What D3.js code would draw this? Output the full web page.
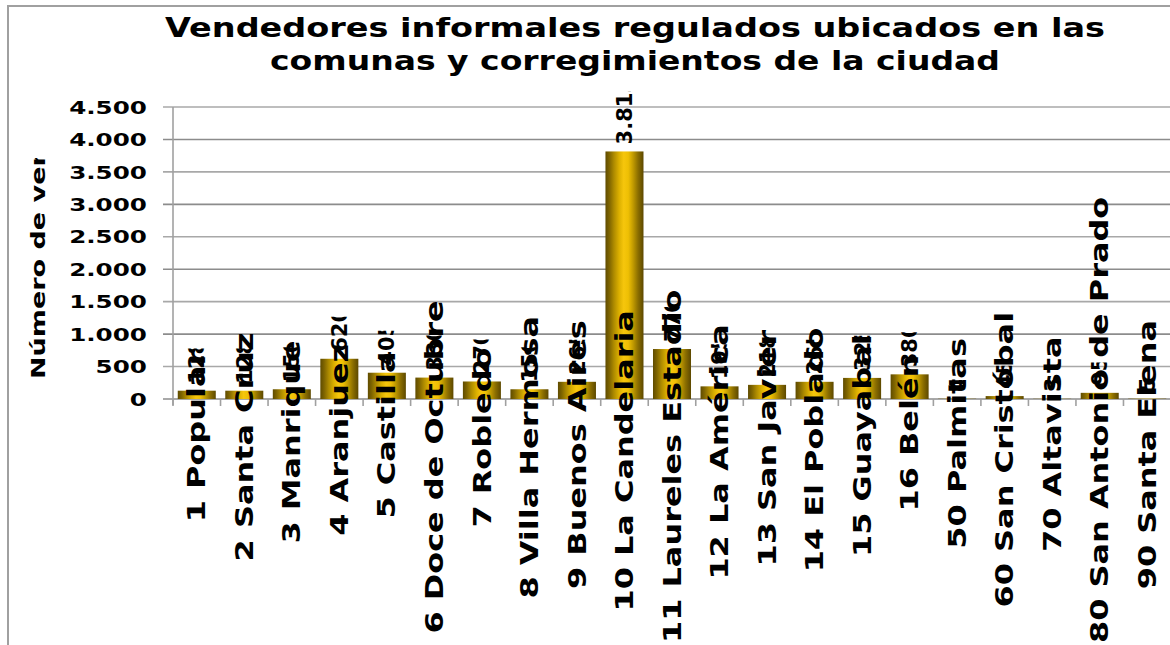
<!DOCTYPE html>
<html><head><meta charset="utf-8">
<script src="https://cdn.jsdelivr.net/npm/d3@7"></script>
<style>
body{margin:0;background:#fff;overflow:hidden}
text{font-family:"DejaVu Sans",Verdana,sans-serif;font-weight:bold;fill:#000}
</style>
</head><body>
<svg id="c" width="1170" height="645"></svg>
<script>
const categories=["1 Popular","2 Santa Cruz","3 Manrique","4 Aranjuez","5 Castilla","6 Doce de Octubre","7 Robledo","8 Villa Hermosa","9 Buenos Aires","10 La Candelaria","11 Laureles Estadio","12 La América","13 San Javier","14 El Poblado","15 Guayabal","16 Belén","50 Palmitas","60 San Cristóbal","70 Altavista","80 San Antonio de Prado","90 Santa Elena"];
const values=[128,128,150,620,405,330,270,150,265,3815,770,195,218,265,325,380,4,45,3,95,5];
const yTicks=[0,500,1000,1500,2000,2500,3000,3500,4000,4500];
const titleLines=["Vendedores informales regulados ubicados en las","comunas y corregimientos de la ciudad"];
const yTitle="Número de vendedores";

(function(){
const svg=d3.select("#c");
const W=1170;
const pL=173,pR=1171,pT=107,pB=399;
const locale=d3.formatLocale({decimal:",",thousands:".",grouping:[3],currency:["$",""]});
const fmt=locale.format(",");

const x=d3.scaleBand().domain(categories).range([pL,pR]).paddingInner(0.2).paddingOuter(0.1);
const y=d3.scaleLinear().domain([0,4500]).range([pB,pT]);

svg.append("rect").attr("x",8).attr("y",6).attr("width",1300).attr("height",800)
  .attr("fill","#fff").attr("stroke","#a0a0a0").attr("stroke-width",2);

const defs=svg.append("defs");
const g=defs.append("linearGradient").attr("id","gold").attr("x1","0%").attr("x2","100%").attr("y1","0%").attr("y2","0%");
[[0,"#5f4b00"],[0.1,"#7e6400"],[0.22,"#ad8a00"],[0.36,"#dcb000"],[0.48,"#f6c60c"],[0.6,"#eebf04"],[0.72,"#c39c00"],[0.86,"#8a6d00"],[1,"#5c4800"]]
  .forEach(s=>g.append("stop").attr("offset",s[0]).attr("stop-color",s[1]));

function stretch(el,k){const l=el.getComputedTextLength();el.setAttribute("textLength",l*k);el.setAttribute("lengthAdjust","spacingAndGlyphs");return l;}

titleLines.forEach((t,i)=>{
  svg.append("text").attr("x",635).attr("y",37+i*33).attr("text-anchor","middle")
    .attr("font-size",26).text(t)
    .attr("textLength",i===0?940:730).attr("lengthAdjust","spacingAndGlyphs");
});

svg.append("g").selectAll("line").data(yTicks).join("line")
  .attr("x1",pL-10).attr("x2",W).attr("y1",d=>y(d)).attr("y2",d=>y(d))
  .attr("stroke",(d,i)=>i%2?"#a8a8a8":"#8c8c8c").attr("stroke-width",1.6);
svg.append("line").attr("x1",pL).attr("x2",pL).attr("y1",pT).attr("y2",pB+6)
  .attr("stroke","#a0a0a0").attr("stroke-width",1.6);
const step=x.step();
svg.append("g").selectAll("line").data(d3.range(categories.length+1)).join("line")
  .attr("x1",i=>pL+i*step).attr("x2",i=>pL+i*step).attr("y1",pB).attr("y2",pB+7)
  .attr("stroke","#a0a0a0").attr("stroke-width",1.6);

svg.append("g").selectAll("text").data(yTicks).join("text")
  .attr("font-size",18.5).attr("y",d=>y(d)).attr("dy","0.36em").text(d=>fmt(d))
  .each(function(){const l=stretch(this,1.33);this.setAttribute("x",147-l*1.33);});

defs.append("clipPath").attr("id","ytclip").append("rect").attr("x",0).attr("y",158).attr("width",80).attr("height",260);
const yt=svg.append("g").attr("clip-path","url(#ytclip)").append("text")
  .attr("font-size",20).attr("transform","translate(38,379) rotate(-90)").attr("dy","0.36em").text(yTitle);
stretch(yt.node(),1.35);

svg.append("g").selectAll("rect").data(values).join("rect")
  .attr("x",(d,i)=>x(categories[i])).attr("width",x.bandwidth())
  .attr("y",d=>y(d)).attr("height",d=>pB-y(d)).attr("fill","url(#gold)");

svg.append("g").selectAll("text").data(categories).join("text")
  .attr("font-size",24).attr("dy","0.36em").text(d=>d)
  .each(function(d){
    const l=this.getComputedTextLength();
    const ys=Math.min(pB+4+l*0.92,643);
    this.setAttribute("transform",`translate(${x(d)+x.bandwidth()/2},${ys}) rotate(-90)`);
    stretch(this,1.33);
  });

const vl=svg.append("g");
values.forEach((v,i)=>{
  const cx=x(categories[i])+x.bandwidth()/2;
  const t=vl.append("text").attr("font-size",21).attr("dy","0.36em").text(fmt(v))
    .attr("transform",`translate(${cx},${y(v)-7}) rotate(-90)`);
  const l=t.node().getComputedTextLength();
  const id="vc"+i;
  defs.append("clipPath").attr("id",id).append("rect").attr("x",0).attr("y",-20).attr("width",l*0.8).attr("height",40);
  t.attr("clip-path",`url(#${id})`);
});
})();
</script>
</body></html>
